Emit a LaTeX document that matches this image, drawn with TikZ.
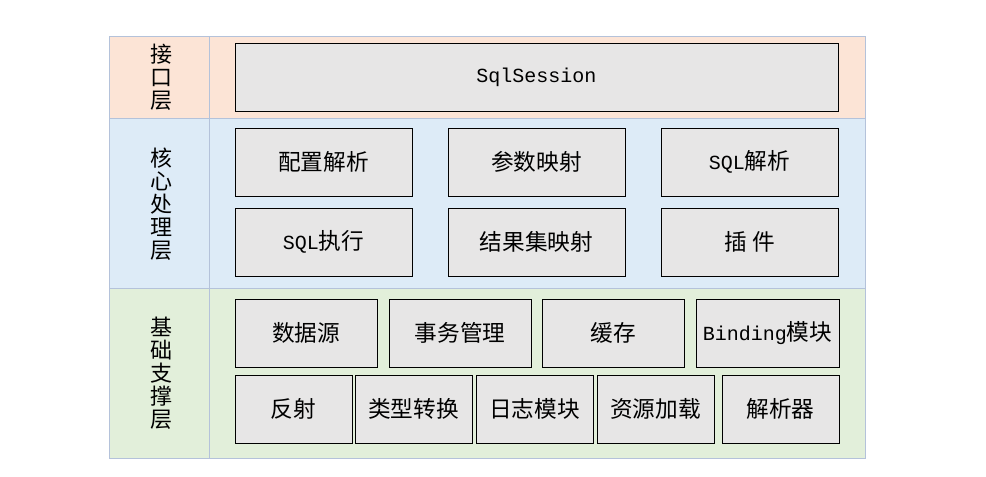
\documentclass[tikz,border=0pt]{standalone}
\usepackage{fontspec}
\newfontfamily\cjk{Noto Sans CJK SC}
\newfontfamily\latinmono{Liberation Mono}
\newcommand{\entext}[1]{{\latinmono\fontsize{15}{19}\selectfont #1}}
\definecolor{peach}{HTML}{FCE4D6}
\definecolor{skyblue}{HTML}{DDEBF7}
\definecolor{palegreen}{HTML}{E2EFDA}
\definecolor{boxgray}{HTML}{E7E6E6}
\definecolor{gridline}{HTML}{B4C2DA}

\begin{document}
\begin{tikzpicture}[x=0.75pt, y=-0.75pt,
    box/.style={draw=black, line width=0.75pt, fill=boxgray, inner sep=0pt,
      minimum height=51pt, font=\cjk\fontsize{17}{19}\selectfont},
    layername/.style={align=center, inner sep=0pt,
      font=\cjk\fontsize{16.5}{17.2}\selectfont}]
    \useasboundingbox (0,0) rectangle (986,476);

    % Draw layers
    \fill[peach] (109,36) rectangle (865,118);
    \fill[skyblue] (109,118) rectangle (865,288);
    \fill[palegreen] (109,288) rectangle (865,458);
    \draw[gridline, line width=0.75pt] (109,36) rectangle (865,458);
    \draw[gridline, line width=0.75pt] (109,118) -- (865,118);
    \draw[gridline, line width=0.75pt] (109,288) -- (865,288);
    \draw[gridline, line width=0.75pt] (209,36) -- (209,458);

    % Layer names
    \node[layername] (jiekou) at (161,77) {接\\口\\层};
    \node[layername] (hexin) at (161,204) {核\\心\\处\\理\\层};
    \node[layername] (jichu) at (161,373) {基\\础\\支\\撑\\层};

    % Interface layer
    \node[box, minimum width=452.25pt] (session) at (536.5,77) {\entext{SqlSession}};

    % Core layer
    \node[box, minimum width=132.75pt] (config) at (323.5,162) {配置解析};
    \node[box, minimum width=132.75pt] (param) at (536.5,162) {参数映射};
    \node[box, minimum width=132.75pt] (sqlparse) at (749.5,162) {\entext{SQL}解析};
    \node[box, minimum width=132.75pt] (sqlexec) at (323.5,242) {\entext{SQL}执行};
    \node[box, minimum width=132.75pt] (result) at (536.5,242) {结果集映射};
    \node[box, minimum width=132.75pt] (plugin) at (749.5,242) {插\ 件};

    % Support layer
    \node[box, minimum width=106.5pt] (datasource) at (306,333) {数据源};
    \node[box, minimum width=106.5pt] (transaction) at (460,333) {事务管理};
    \node[box, minimum width=106.5pt] (cache) at (613,333) {缓存};
    \node[box, minimum width=107.25pt] (binding) at (767.5,333) {\entext{Binding}模块};
    \node[box, minimum width=87.75pt] (reflect) at (293.5,409) {反射};
    \node[box, minimum width=87.75pt] (typeconv) at (413.5,409) {类型转换};
    \node[box, minimum width=87.75pt] (logging) at (534.5,409) {日志模块};
    \node[box, minimum width=87.75pt] (resource) at (655.5,409) {资源加载};
    \node[box, minimum width=87.75pt] (parser) at (780.5,409) {解析器};
\end{tikzpicture}
\end{document}
